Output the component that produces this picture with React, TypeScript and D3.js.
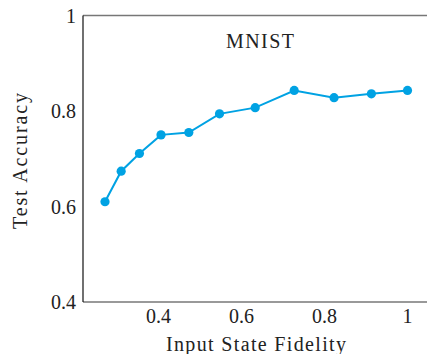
import * as d3 from "d3"

// fidelity vs. accuracy
const fidelity = [0.271, 0.31, 0.354, 0.406, 0.473, 0.547, 0.633, 0.727, 0.823, 0.913, 1.0]
const accuracy = [0.61, 0.674, 0.711, 0.75, 0.755, 0.794, 0.807, 0.843, 0.828, 0.836, 0.843]
const xTicks = [0.4, 0.6, 0.8, 1]
const yTicks = [0.4, 0.6, 0.8, 1]

const W = 427
const H = 354
const FONT = "'Liberation Serif', 'DejaVu Serif', serif"
const LINE = "#00a2e3"

export default function App() {
  const left = 83
  const top = 15.5
  const bottom = 302

  const x = d3.scaleLinear().domain([0.218, 1.047]).range([left, W])
  const y = d3.scaleLinear().domain([0.4, 1]).range([bottom, top])

  const line = d3
    .line<number>()
    .x((_, i) => x(fidelity[i]))
    .y((d) => y(d))

  const fmt = (v: number) => (v === 1 ? "1" : v.toFixed(1))

  return (
    <svg
      width={W}
      height={H}
      style={{ position: "absolute", left: 0, top: 0, background: "#fff" }}
      fontFamily={FONT}
    >
      {/* frame */}
      <line x1={left} x2={W} y1={top} y2={top} stroke="#777" strokeWidth={1.4} />
      <line x1={left} x2={W} y1={bottom} y2={bottom} stroke="#777" strokeWidth={1.4} />
      <line x1={left} x2={left} y1={top} y2={bottom} stroke="#111" strokeWidth={1.2} />

      {/* y tick labels */}
      {yTicks.map((t) => (
        <text key={t} x={76} y={y(t) + 7} textAnchor="end" fontSize={20} fill="#222">
          {fmt(t)}
        </text>
      ))}

      {/* x tick labels */}
      {xTicks.map((t) => (
        <text key={t} x={x(t)} y={323} textAnchor="middle" fontSize={20} fill="#222">
          {fmt(t)}
        </text>
      ))}

      {/* axis titles */}
      <text
        x={256}
        y={351}
        textAnchor="middle"
        fontSize={20}
        fill="#222"
        textLength={180}
        lengthAdjust="spacing"
      >
        Input State Fidelity
      </text>
      <text
        transform="translate(27, 161) rotate(-90)"
        textAnchor="middle"
        fontSize={20}
        fill="#222"
        textLength={136}
        lengthAdjust="spacing"
      >
        Test Accuracy
      </text>

      {/* title */}
      <text
        x={260}
        y={48}
        textAnchor="middle"
        fontSize={20}
        fill="#222"
        textLength={68}
        lengthAdjust="spacing"
      >
        MNIST
      </text>

      {/* series */}
      <path d={line(accuracy) ?? ""} fill="none" stroke={LINE} strokeWidth={2} />
      {accuracy.map((a, i) => (
        <circle key={i} cx={x(fidelity[i])} cy={y(a)} r={4.6} fill={LINE} />
      ))}
    </svg>
  )
}
